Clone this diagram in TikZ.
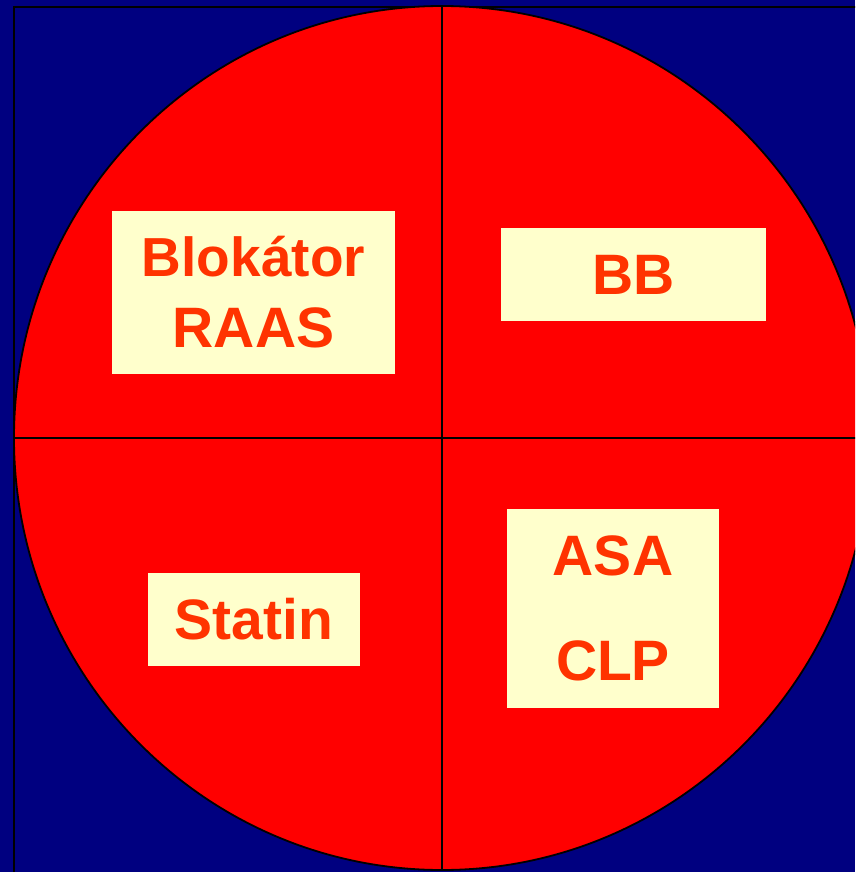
\documentclass[tikz,border=0pt]{standalone}
\usepackage{fontspec}
\setmainfont{Liberation Sans}
\usetikzlibrary{shapes.geometric}
\definecolor{navyBg}{RGB}{0,0,128}
\definecolor{pieRed}{RGB}{255,0,0}
\definecolor{labelFill}{RGB}{255,255,204}
\definecolor{labelText}{RGB}{255,51,0}
\tikzset{
    every node/.append style={align=center},
    pie/.style={ellipse,draw=black,line width=1.8pt,fill=pieRed,inner sep=0pt},
    divider/.style={draw=black,line width=2.6pt},
    drug/.style={rectangle,fill=labelFill,text=labelText,inner sep=0pt,
        font=\fontsize{57pt}{71pt}\selectfont\bfseries}
}
\begin{document}
\begin{tikzpicture}[x=1pt,y=-1pt]
    \useasboundingbox (0,0) rectangle (855,872);
    \clip (0,0) rectangle (855,872);
    \fill[navyBg] (0,0) rectangle (855,872);
    % frame and pie
    \draw[black,line width=2.4pt] (14,880) -- (14,7) -- (880,7);
    \node[pie,minimum width=856pt,minimum height=864pt] (wheel) at (442,438) {};
    \draw[divider] (wheel.north) -- (wheel.south);
    \draw[divider] (wheel.west) -- (wheel.east);

    % quadrant labels
    \node[drug,minimum width=283pt,minimum height=163pt,
          font=\fontsize{55pt}{71pt}\selectfont\bfseries] (raas) at (253.5,292.5) {Blokátor\\\fontsize{57pt}{71pt}\selectfont RAAS};
    \node[drug,minimum width=265pt,minimum height=93pt]  (bb)     at (633.5,274.5) {BB};
    \node[drug,minimum width=212pt,minimum height=93pt]  (statin) at (254,619.5)   {Statin};
    \node[drug,minimum width=212pt,minimum height=199pt,
          font=\fontsize{57pt}{105pt}\selectfont\bfseries] (asa) at (613,608.5) {ASA\\CLP};
\end{tikzpicture}
\end{document}
